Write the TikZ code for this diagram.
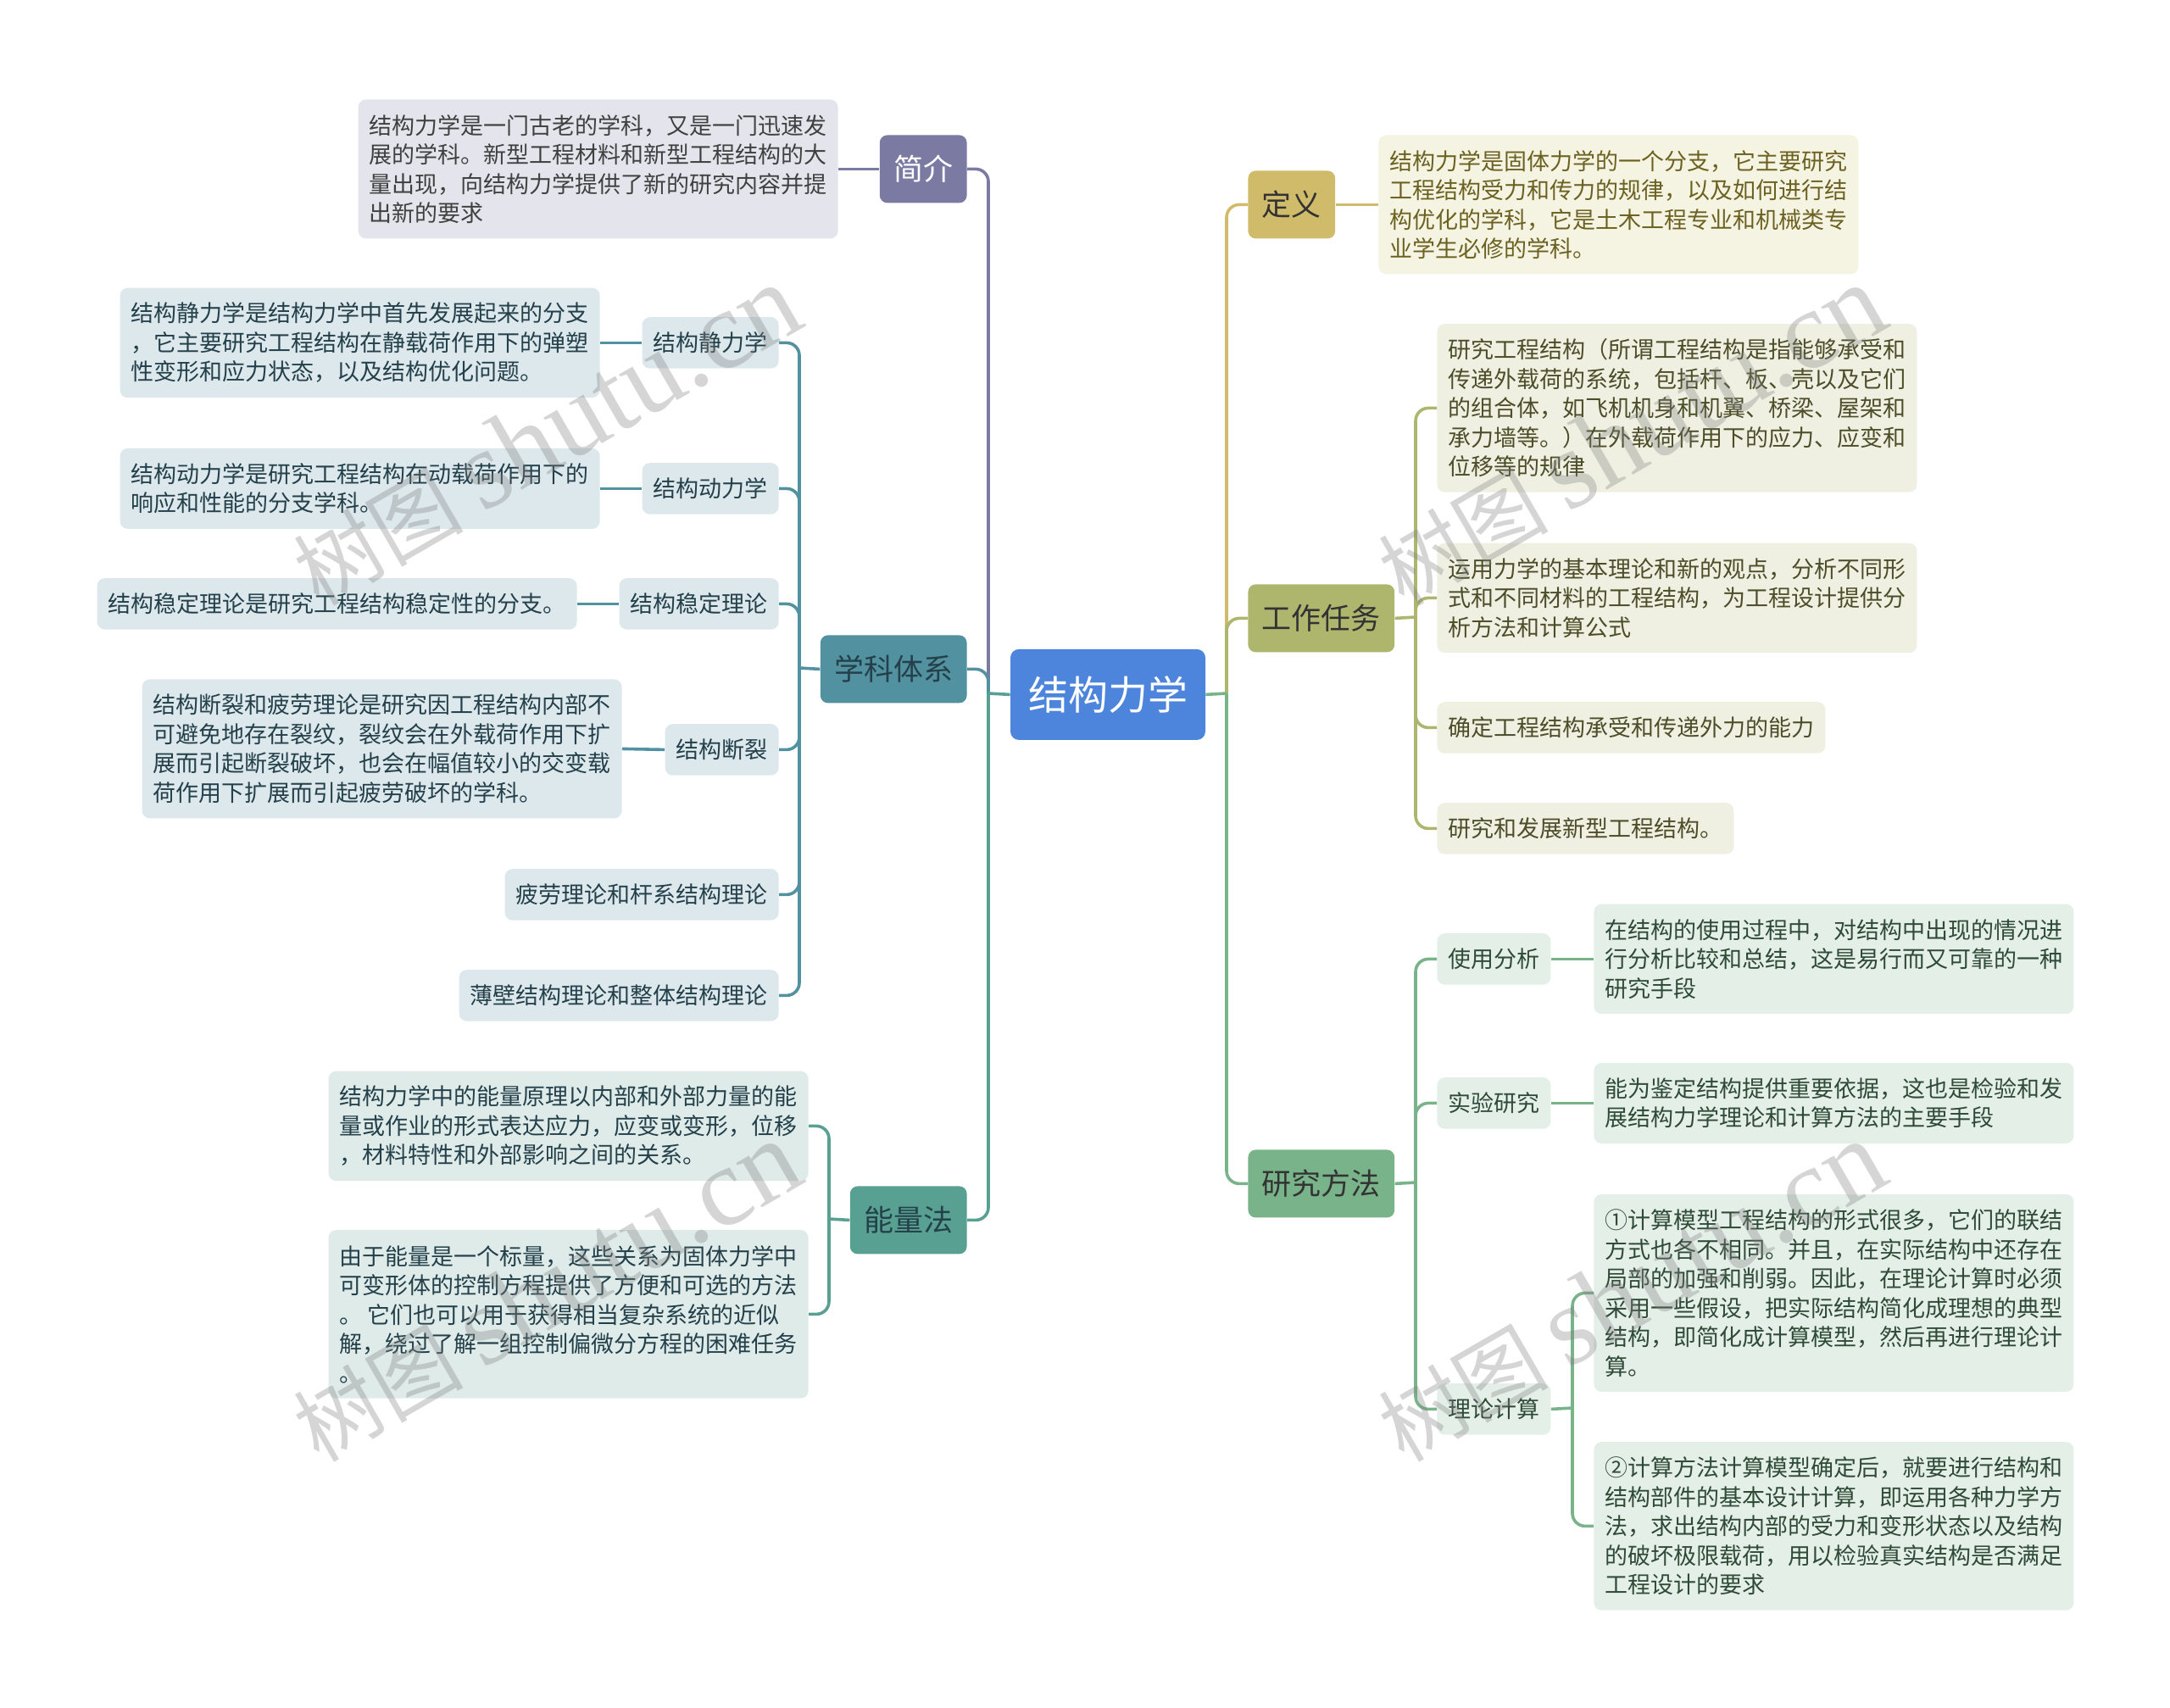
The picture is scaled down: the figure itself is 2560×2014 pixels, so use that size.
\documentclass[tikz,border=0pt]{standalone}
\usepackage{fontspec}
\usepackage{xcolor}
\setmainfont{Noto Sans CJK SC}
\newfontfamily\wmlatin{Liberation Serif}
\usetikzlibrary{positioning}

\definecolor{rootblue}{HTML}{4D85DC}
\definecolor{introfill}{HTML}{7B7AA3}
\definecolor{introbg}{HTML}{E4E5EC}
\definecolor{sysfill}{HTML}{52919F}
\definecolor{sysbg}{HTML}{DCE8EC}
\definecolor{sysink}{HTML}{24404A}
\definecolor{energyfill}{HTML}{58A092}
\definecolor{energybg}{HTML}{DEEBE9}
\definecolor{defnfill}{HTML}{D0BB6A}
\definecolor{defnbg}{HTML}{F5F3E2}
\definecolor{defnink}{HTML}{6B6222}
\definecolor{taskfill}{HTML}{AEB56D}
\definecolor{taskbg}{HTML}{EFF0E2}
\definecolor{taskink}{HTML}{4B4E28}
\definecolor{methodfill}{HTML}{79B38A}
\definecolor{methodbg}{HTML}{E4EFE8}
\definecolor{methodink}{HTML}{2F4A36}

\tikzset{
    body/.style={rounded corners=4.5pt, inner xsep=6.5pt, inner ysep=0pt, align=left, yshift=-0.7pt,
        font=\fontsize{13.5}{17.25}\selectfont, minimum height=#1*17.25pt+13pt},
    branch/.style={rounded corners=4.5pt, inner xsep=8.2pt, inner ysep=0pt, minimum height=40pt, yshift=-0.7pt,
        font=\fontsize{17.5}{20}\selectfont},
    link/.style={line width=1.8pt, rounded corners=7.5pt},
    stub/.style={line width=1.8pt}
}

\begin{document}
\begin{tikzpicture}[x=0.5pt, y=-0.5pt]
    \useasboundingbox (0,0) rectangle (2560,2014);

    % Centre topic
    \node[fill=rootblue, text=white, rounded corners=5pt, inner xsep=10.5pt, inner ysep=0pt, yshift=-0.7pt,
        minimum height=53.5pt, font=\fontsize{23.5}{28}\selectfont] (root) at (1307,818) {结构力学};
    \coordinate (leftspine) at (1166,818);
    \coordinate (rightspine) at (1447,818);

    % Left branches
    \node[branch, fill=introfill, text=white, anchor=east] (intro) at (1141,198) {简介};
    \node[branch, fill=sysfill, text=sysink, anchor=east] (sys) at (1141,788) {学科体系};
    \node[branch, fill=energyfill, text=sysink, anchor=east] (energy) at (1141,1438) {能量法};

    % Right branches
    \node[branch, fill=defnfill, text=black!80, anchor=west] (defn) at (1472,240) {定义};
    \node[branch, fill=taskfill, text=black!80, anchor=west] (task) at (1472,728) {工作任务};
    \node[branch, fill=methodfill, text=black!80, anchor=west] (method) at (1472,1395) {研究方法};

    % Intro text
    \node[body=4, fill=introbg, text=black!75, anchor=east] (introtext) at (989,198)
        {结构力学是一门古老的学科，又是一门迅速发\\展的学科。新型工程材料和新型工程结构的大\\量出现，向结构力学提供了新的研究内容并提\\出新的要求};

    % Subject system
    \node[body=1, fill=sysbg, text=sysink, anchor=east] (statics) at (919,403) {结构静力学};
    \node[body=3, fill=sysbg, text=sysink, anchor=east] (staticstext) at (708,403)
        {结构静力学是结构力学中首先发展起来的分支\\，它主要研究工程结构在静载荷作用下的弹塑\\性变形和应力状态，以及结构优化问题。};
    \node[body=1, fill=sysbg, text=sysink, anchor=east] (dynamics) at (919,575) {结构动力学};
    \node[body=2, fill=sysbg, text=sysink, anchor=east] (dynamicstext) at (708,575)
        {结构动力学是研究工程结构在动载荷作用下的\\响应和性能的分支学科。};
    \node[body=1, fill=sysbg, text=sysink, anchor=east] (stability) at (919,711) {结构稳定理论};
    \node[body=1, fill=sysbg, text=sysink, anchor=east] (stabilitytext) at (681,711)
        {结构稳定理论是研究工程结构稳定性的分支。};
    \node[body=1, fill=sysbg, text=sysink, anchor=east] (fracture) at (919,883) {结构断裂};
    \node[body=4, fill=sysbg, text=sysink, anchor=east] (fracturetext) at (734,882)
        {结构断裂和疲劳理论是研究因工程结构内部不\\可避免地存在裂纹，裂纹会在外载荷作用下扩\\展而引起断裂破坏，也会在幅值较小的交变载\\荷作用下扩展而引起疲劳破坏的学科。};
    \node[body=1, fill=sysbg, text=sysink, anchor=east] (fatigue) at (919,1054) {疲劳理论和杆系结构理论};
    \node[body=1, fill=sysbg, text=sysink, anchor=east] (thinwall) at (919,1173) {薄壁结构理论和整体结构理论};
    \coordinate (sysspine) at (943,788);

    % Energy method
    \node[body=3, fill=energybg, text=sysink, anchor=east] (energyone) at (954,1327)
        {结构力学中的能量原理以内部和外部力量的能\\量或作业的形式表达应力，应变或变形，位移\\，材料特性和外部影响之间的关系。};
    \node[body=5, fill=energybg, text=sysink, anchor=east] (energytwo) at (954,1549)
        {由于能量是一个标量，这些关系为固体力学中\\可变形体的控制方程提供了方便和可选的方法\\。\ 它们也可以用于获得相当复杂系统的近似\\解，绕过了解一组控制偏微分方程的困难任务\\。};
    \coordinate (energyspine) at (978,1438);

    % Definition text
    \node[body=4, fill=defnbg, text=defnink, anchor=west] (defntext) at (1626,240)
        {结构力学是固体力学的一个分支，它主要研究\\工程结构受力和传力的规律，以及如何进行结\\构优化的学科，它是土木工程专业和机械类专\\业学生必修的学科。};

    % Work tasks
    \node[body=5, fill=taskbg, text=taskink, anchor=west] (taskone) at (1695,480)
        {研究工程结构（所谓工程结构是指能够承受和\\传递外载荷的系统，包括杆、板、壳以及它们\\的组合体，如飞机机身和机翼、桥梁、屋架和\\承力墙等。）在外载荷作用下的应力、应变和\\位移等的规律};
    \node[body=3, fill=taskbg, text=taskink, anchor=west] (tasktwo) at (1695,704)
        {运用力学的基本理论和新的观点，分析不同形\\式和不同材料的工程结构，为工程设计提供分\\析方法和计算公式};
    \node[body=1, fill=taskbg, text=taskink, anchor=west] (taskthree) at (1695,857)
        {确定工程结构承受和传递外力的能力};
    \node[body=1, fill=taskbg, text=taskink, anchor=west] (taskfour) at (1695,976)
        {研究和发展新型工程结构。};
    \coordinate (taskspine) at (1670,728);

    % Research methods
    \node[body=1, fill=methodbg, text=methodink, anchor=west] (usage) at (1695,1130) {使用分析};
    \node[body=3, fill=methodbg, text=methodink, anchor=west] (usagetext) at (1880,1130)
        {在结构的使用过程中，对结构中出现的情况进\\行分析比较和总结，这是易行而又可靠的一种\\研究手段};
    \node[body=1, fill=methodbg, text=methodink, anchor=west] (test) at (1695,1300) {实验研究};
    \node[body=2, fill=methodbg, text=methodink, anchor=west] (testtext) at (1880,1300)
        {能为鉴定结构提供重要依据，这也是检验和发\\展结构力学理论和计算方法的主要手段};
    \node[body=1, fill=methodbg, text=methodink, anchor=west] (theory) at (1695,1661) {理论计算};
    \node[body=6, fill=methodbg, text=methodink, anchor=west] (theoryone) at (1880,1524)
        {①计算模型工程结构的形式很多，它们的联结\\方式也各不相同。并且，在实际结构中还存在\\局部的加强和削弱。因此，在理论计算时必须\\采用一些假设，把实际结构简化成理想的典型\\结构，即简化成计算模型，然后再进行理论计\\算。};
    \node[body=5, fill=methodbg, text=methodink, anchor=west] (theorytwo) at (1880,1799)
        {②计算方法计算模型确定后，就要进行结构和\\结构部件的基本设计计算，即运用各种力学方\\法，求出结构内部的受力和变形状态以及结构\\的破坏极限载荷，用以检验真实结构是否满足\\工程设计的要求};
    \coordinate (methodspine) at (1670,1395);
    \coordinate (theoryspine) at (1855,1661);

    % Root connectors
    \draw[link, introfill] (leftspine) -- (leftspine |- intro.east) -- (intro.east);
    \draw[link, sysfill] (leftspine) -- (leftspine |- sys.east) -- (sys.east);
    \draw[link, energyfill] (leftspine) -- (leftspine |- energy.east) -- (energy.east);
    \draw[link, defnfill] (rightspine) -- (rightspine |- defn.west) -- (defn.west);
    \draw[link, taskfill] (rightspine) -- (rightspine |- task.west) -- (task.west);
    \draw[link, methodfill] (rightspine) -- (rightspine |- method.west) -- (method.west);
    \draw[stub, energyfill] (root.west) -- (leftspine);
    \draw[stub, methodfill] (root.east) -- (rightspine);

    % Second level connectors
    \draw[stub, introfill] (intro.west) -- (introtext.east);
    \draw[stub, sysfill] (sys.west) -- (sysspine);
    \foreach \kid in {statics, dynamics, stability, fracture, fatigue, thinwall} {
        \draw[link, sysfill] (sysspine) -- (sysspine |- \kid.east) -- (\kid.east);
    }
    \foreach \kid/\note in {statics/staticstext, dynamics/dynamicstext, stability/stabilitytext, fracture/fracturetext} {
        \draw[stub, sysfill] (\kid.west) -- (\note.east);
    }
    \draw[stub, energyfill] (energy.west) -- (energyspine);
    \foreach \kid in {energyone, energytwo} {
        \draw[link, energyfill] (energyspine) -- (energyspine |- \kid.east) -- (\kid.east);
    }
    \draw[stub, defnfill] (defn.east) -- (defntext.west);
    \draw[stub, taskfill] (task.east) -- (taskspine);
    \foreach \kid in {taskone, tasktwo, taskthree, taskfour} {
        \draw[link, taskfill] (taskspine) -- (taskspine |- \kid.west) -- (\kid.west);
    }
    \draw[stub, methodfill] (method.east) -- (methodspine);
    \foreach \kid in {usage, test, theory} {
        \draw[link, methodfill] (methodspine) -- (methodspine |- \kid.west) -- (\kid.west);
    }
    \foreach \kid/\note in {usage/usagetext, test/testtext} {
        \draw[stub, methodfill] (\kid.east) -- (\note.west);
    }
    \draw[stub, methodfill] (theory.east) -- (theoryspine);
    \foreach \kid in {theoryone, theorytwo} {
        \draw[link, methodfill] (theoryspine) -- (theoryspine |- \kid.west) -- (\kid.west);
    }

    % Watermarks
    \foreach \wx/\wy/\wname in {644/514/marka, 1924/514/markb, 644/1524/markc, 1924/1524/markd} {
        \node[text=gray, opacity=0.33, rotate=30, font=\fontsize{50}{56}\selectfont] (\wname) at (\wx,\wy) {树图 {\wmlatin\fontsize{66}{70}\selectfont shutu.cn}};
    }
\end{tikzpicture}
\end{document}
